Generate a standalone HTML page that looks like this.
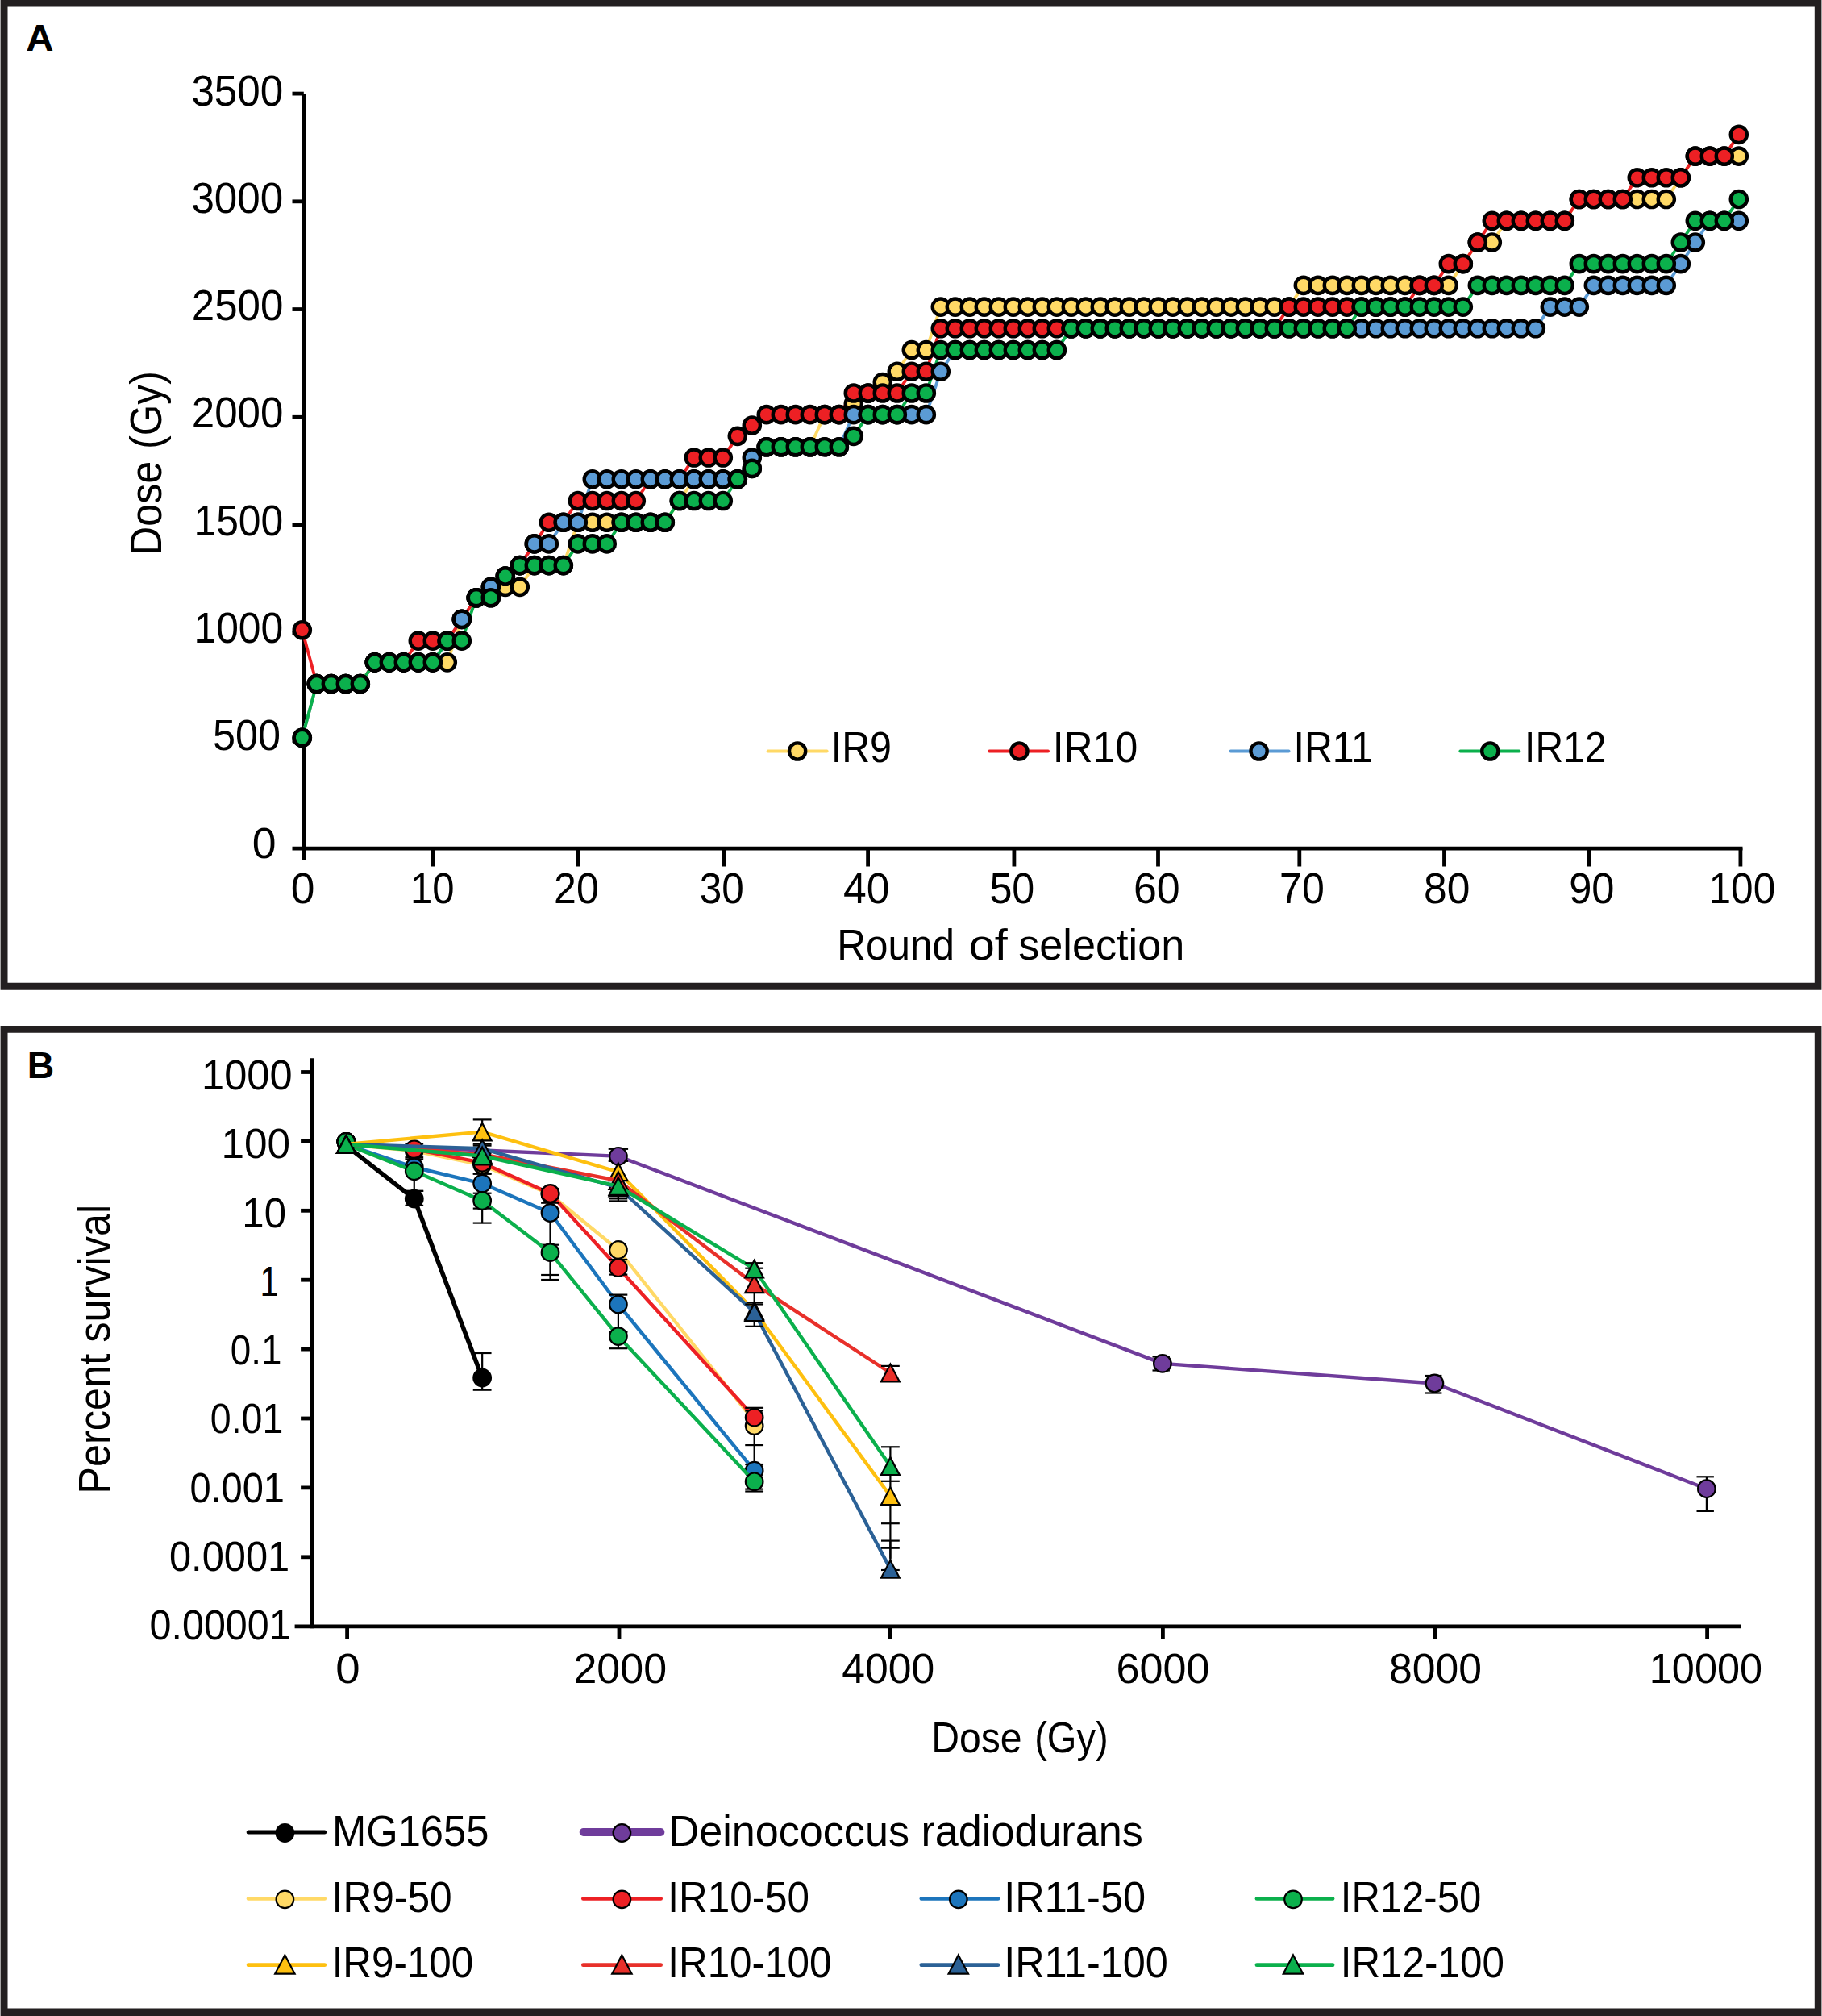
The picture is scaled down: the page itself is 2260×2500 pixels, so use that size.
<!DOCTYPE html>
<html lang="en">
<head>
<meta charset="utf-8">
<title>Dose per round of selection and percent survival</title>
<style>
html,body{margin:0;padding:0;background:#fff;}
body{width:2260px;height:2500px;overflow:hidden;}
svg{display:block;}
svg text{font-family:"Liberation Sans",sans-serif;}
</style>
</head>
<body>
<svg width="2260" height="2500" viewBox="0 0 2260 2500">
<rect x="0" y="0" width="2260" height="2500" fill="#fff"/>
<!-- Panel A -->
<path fill="#231f20" fill-rule="evenodd" d="M0.6 0H2259.4V1227.7H0.6Z M9.5 8.5H2250.8V1218.8H9.5Z"/>
<text transform="translate(32.31,63.1) scale(1.0077,1)" font-size="47.1" font-weight="bold" fill="#000">A</text>
<line x1="376.6" y1="116.1" x2="376.6" y2="1066" stroke="#000" stroke-width="4.8" stroke-linecap="butt"/>
<line x1="362.5" y1="1052.1" x2="2161.5" y2="1052.1" stroke="#000" stroke-width="4.8" stroke-linecap="butt"/>
<line x1="362.5" y1="918.47" x2="376.8" y2="918.47" stroke="#000" stroke-width="4.8" stroke-linecap="butt"/>
<line x1="362.5" y1="784.74" x2="376.8" y2="784.74" stroke="#000" stroke-width="4.8" stroke-linecap="butt"/>
<line x1="362.5" y1="651.01" x2="376.8" y2="651.01" stroke="#000" stroke-width="4.8" stroke-linecap="butt"/>
<line x1="362.5" y1="517.28" x2="376.8" y2="517.28" stroke="#000" stroke-width="4.8" stroke-linecap="butt"/>
<line x1="362.5" y1="383.55" x2="376.8" y2="383.55" stroke="#000" stroke-width="4.8" stroke-linecap="butt"/>
<line x1="362.5" y1="249.82" x2="376.8" y2="249.82" stroke="#000" stroke-width="4.8" stroke-linecap="butt"/>
<line x1="362.5" y1="116.09" x2="376.8" y2="116.09" stroke="#000" stroke-width="4.8" stroke-linecap="butt"/>
<line x1="536.9" y1="1052.1" x2="536.9" y2="1074.5" stroke="#000" stroke-width="4.8" stroke-linecap="butt"/>
<line x1="716.6" y1="1052.1" x2="716.6" y2="1074.5" stroke="#000" stroke-width="4.8" stroke-linecap="butt"/>
<line x1="897.7" y1="1052.1" x2="897.7" y2="1074.5" stroke="#000" stroke-width="4.8" stroke-linecap="butt"/>
<line x1="1076.6" y1="1052.1" x2="1076.6" y2="1074.5" stroke="#000" stroke-width="4.8" stroke-linecap="butt"/>
<line x1="1257.9" y1="1052.1" x2="1257.9" y2="1074.5" stroke="#000" stroke-width="4.8" stroke-linecap="butt"/>
<line x1="1436.5" y1="1052.1" x2="1436.5" y2="1074.5" stroke="#000" stroke-width="4.8" stroke-linecap="butt"/>
<line x1="1611.8" y1="1052.1" x2="1611.8" y2="1074.5" stroke="#000" stroke-width="4.8" stroke-linecap="butt"/>
<line x1="1791.5" y1="1052.1" x2="1791.5" y2="1074.5" stroke="#000" stroke-width="4.8" stroke-linecap="butt"/>
<line x1="1971" y1="1052.1" x2="1971" y2="1074.5" stroke="#000" stroke-width="4.8" stroke-linecap="butt"/>
<line x1="2158.9" y1="1052.1" x2="2158.9" y2="1074.5" stroke="#000" stroke-width="4.8" stroke-linecap="butt"/>
<text transform="translate(237.38,130.5) scale(0.9574,1)" font-size="53.5" fill="#000">3500</text>
<text transform="translate(237.38,263.81) scale(0.9574,1)" font-size="53.5" fill="#000">3000</text>
<text transform="translate(237.75,397.13) scale(0.9543,1)" font-size="53.5" fill="#000">2500</text>
<text transform="translate(237.75,530.44) scale(0.9543,1)" font-size="53.5" fill="#000">2000</text>
<text transform="translate(240.46,663.76) scale(0.9310,1)" font-size="53.5" fill="#000">1500</text>
<text transform="translate(240.46,797.07) scale(0.9310,1)" font-size="53.5" fill="#000">1000</text>
<text transform="translate(263.98,930.38) scale(0.9416,1)" font-size="53.5" fill="#000">500</text>
<text transform="translate(312.66,1063.7) scale(1.0021,1)" font-size="53.5" fill="#000">0</text>
<text transform="translate(360.66,1119.5) scale(0.9982,1)" font-size="53.5" fill="#000">0</text>
<text transform="translate(508.92,1119.5) scale(0.9182,1)" font-size="53.5" fill="#000">10</text>
<text transform="translate(687.1,1119.5) scale(0.9360,1)" font-size="53.5" fill="#000">20</text>
<text transform="translate(867.64,1119.5) scale(0.9246,1)" font-size="53.5" fill="#000">30</text>
<text transform="translate(1045.94,1119.5) scale(0.9666,1)" font-size="53.5" fill="#000">40</text>
<text transform="translate(1227.39,1119.5) scale(0.9396,1)" font-size="53.5" fill="#000">50</text>
<text transform="translate(1405.9,1119.5) scale(0.9707,1)" font-size="53.5" fill="#000">60</text>
<text transform="translate(1587.1,1119.5) scale(0.9360,1)" font-size="53.5" fill="#000">70</text>
<text transform="translate(1766.11,1119.5) scale(0.9636,1)" font-size="53.5" fill="#000">80</text>
<text transform="translate(1946.19,1119.5) scale(0.9464,1)" font-size="53.5" fill="#000">90</text>
<text transform="translate(2119.59,1119.5) scale(0.9256,1)" font-size="53.5" fill="#000">100</text>
<g>
<text transform="translate(1038.33,1190) scale(0.9063,1)" font-size="54.5" fill="#000">Round</text>
<text transform="translate(1201.65,1190) scale(1.0581,1)" font-size="54.5" fill="#000">of</text>
<text transform="translate(1263.16,1190) scale(0.9586,1)" font-size="54.5" fill="#000">selection</text>
</g>
<g>
<text transform="translate(200.4,688.94) rotate(-90) scale(0.9036,1)" font-size="55.5" fill="#000">Dose</text>
<text transform="translate(200.4,556.7) rotate(-90) scale(0.8930,1)" font-size="55.5" fill="#000">(Gy)</text>
</g>
<g fill="none" stroke-width="3.8" stroke-linejoin="round">
<polyline points="374.8,914.84 392.8,848.05 410.8,848.05 428.8,848.05 446.8,848.05 464.8,821.34 482.8,821.34 500.8,821.34 518.8,821.34 536.8,821.34 554.8,821.34 572.8,767.91 590.8,741.2 608.8,741.2 626.8,727.84 644.8,727.84 662.8,701.13 680.8,701.13 698.8,701.13 716.8,647.71 734.8,647.71 752.8,647.71 770.8,647.71 788.8,647.71 806.8,647.71 824.8,647.71 842.8,620.99 860.8,594.28 878.8,594.28 896.8,594.28 914.8,594.28 932.8,580.92 950.8,554.21 968.8,554.21 986.8,554.21 1004.8,554.21 1022.8,514.14 1040.8,514.14 1058.8,500.78 1076.8,487.43 1094.8,474.07 1112.8,460.71 1130.8,434 1148.8,434 1166.8,380.58 1184.8,380.58 1202.8,380.58 1220.8,380.58 1238.8,380.58 1256.8,380.58 1274.8,380.58 1292.8,380.58 1310.8,380.58 1328.8,380.58 1346.8,380.58 1364.8,380.58 1382.8,380.58 1400.8,380.58 1418.8,380.58 1436.8,380.58 1454.8,380.58 1472.8,380.58 1490.8,380.58 1508.8,380.58 1526.8,380.58 1544.8,380.58 1562.8,380.58 1580.8,380.58 1598.8,380.58 1616.8,353.86 1634.8,353.86 1652.8,353.86 1670.8,353.86 1688.8,353.86 1706.8,353.86 1724.8,353.86 1742.8,353.86 1760.8,353.86 1778.8,353.86 1796.8,353.86 1814.8,327.15 1832.8,300.44 1850.8,300.44 1868.8,273.72 1886.8,273.72 1904.8,273.72 1922.8,273.72 1940.8,273.72 1958.8,247.01 1976.8,247.01 1994.8,247.01 2012.8,247.01 2030.8,247.01 2048.8,247.01 2066.8,247.01 2084.8,220.3 2102.8,193.58 2120.8,193.58 2138.8,193.58 2156.8,193.58" stroke="#ffd966"/>
<polyline points="374.8,914.84 392.8,848.05 410.8,848.05 428.8,848.05 446.8,848.05 464.8,821.34 482.8,821.34 500.8,821.34 518.8,821.34 536.8,821.34 554.8,794.63 572.8,767.91 590.8,741.2 608.8,727.84 626.8,714.49 644.8,701.13 662.8,674.42 680.8,674.42 698.8,647.71 716.8,647.71 734.8,594.28 752.8,594.28 770.8,594.28 788.8,594.28 806.8,594.28 824.8,594.28 842.8,594.28 860.8,594.28 878.8,594.28 896.8,594.28 914.8,594.28 932.8,567.57 950.8,554.21 968.8,554.21 986.8,554.21 1004.8,554.21 1022.8,554.21 1040.8,554.21 1058.8,514.14 1076.8,514.14 1094.8,514.14 1112.8,514.14 1130.8,514.14 1148.8,514.14 1166.8,460.71 1184.8,434 1202.8,434 1220.8,434 1238.8,434 1256.8,434 1274.8,434 1292.8,434 1310.8,434 1328.8,407.29 1346.8,407.29 1364.8,407.29 1382.8,407.29 1400.8,407.29 1418.8,407.29 1436.8,407.29 1454.8,407.29 1472.8,407.29 1490.8,407.29 1508.8,407.29 1526.8,407.29 1544.8,407.29 1562.8,407.29 1580.8,407.29 1598.8,407.29 1616.8,407.29 1634.8,407.29 1652.8,407.29 1670.8,407.29 1688.8,407.29 1706.8,407.29 1724.8,407.29 1742.8,407.29 1760.8,407.29 1778.8,407.29 1796.8,407.29 1814.8,407.29 1832.8,407.29 1850.8,407.29 1868.8,407.29 1886.8,407.29 1904.8,407.29 1922.8,380.58 1940.8,380.58 1958.8,380.58 1976.8,353.86 1994.8,353.86 2012.8,353.86 2030.8,353.86 2048.8,353.86 2066.8,353.86 2084.8,327.15 2102.8,300.44 2120.8,273.72 2138.8,273.72 2156.8,273.72" stroke="#5b9bd5"/>
<polyline points="374.8,781.27 392.8,848.05 410.8,848.05 428.8,848.05 446.8,848.05 464.8,821.34 482.8,821.34 500.8,821.34 518.8,794.63 536.8,794.63 554.8,794.63 572.8,767.91 590.8,741.2 608.8,727.84 626.8,714.49 644.8,701.13 662.8,674.42 680.8,647.71 698.8,647.71 716.8,620.99 734.8,620.99 752.8,620.99 770.8,620.99 788.8,620.99 806.8,594.28 824.8,594.28 842.8,594.28 860.8,567.57 878.8,567.57 896.8,567.57 914.8,540.85 932.8,527.5 950.8,514.14 968.8,514.14 986.8,514.14 1004.8,514.14 1022.8,514.14 1040.8,514.14 1058.8,487.43 1076.8,487.43 1094.8,487.43 1112.8,487.43 1130.8,460.71 1148.8,460.71 1166.8,407.29 1184.8,407.29 1202.8,407.29 1220.8,407.29 1238.8,407.29 1256.8,407.29 1274.8,407.29 1292.8,407.29 1310.8,407.29 1328.8,407.29 1346.8,407.29 1364.8,407.29 1382.8,407.29 1400.8,407.29 1418.8,407.29 1436.8,407.29 1454.8,407.29 1472.8,407.29 1490.8,407.29 1508.8,407.29 1526.8,407.29 1544.8,407.29 1562.8,407.29 1580.8,407.29 1598.8,380.58 1616.8,380.58 1634.8,380.58 1652.8,380.58 1670.8,380.58 1688.8,380.58 1706.8,380.58 1724.8,380.58 1742.8,380.58 1760.8,353.86 1778.8,353.86 1796.8,327.15 1814.8,327.15 1832.8,300.44 1850.8,273.72 1868.8,273.72 1886.8,273.72 1904.8,273.72 1922.8,273.72 1940.8,273.72 1958.8,247.01 1976.8,247.01 1994.8,247.01 2012.8,247.01 2030.8,220.3 2048.8,220.3 2066.8,220.3 2084.8,220.3 2102.8,193.58 2120.8,193.58 2138.8,193.58 2156.8,166.87" stroke="#ed2024"/>
<polyline points="374.8,914.84 392.8,848.05 410.8,848.05 428.8,848.05 446.8,848.05 464.8,821.34 482.8,821.34 500.8,821.34 518.8,821.34 536.8,821.34 554.8,794.63 572.8,794.63 590.8,741.2 608.8,741.2 626.8,714.49 644.8,701.13 662.8,701.13 680.8,701.13 698.8,701.13 716.8,674.42 734.8,674.42 752.8,674.42 770.8,647.71 788.8,647.71 806.8,647.71 824.8,647.71 842.8,620.99 860.8,620.99 878.8,620.99 896.8,620.99 914.8,594.28 932.8,580.92 950.8,554.21 968.8,554.21 986.8,554.21 1004.8,554.21 1022.8,554.21 1040.8,554.21 1058.8,540.85 1076.8,514.14 1094.8,514.14 1112.8,514.14 1130.8,487.43 1148.8,487.43 1166.8,434 1184.8,434 1202.8,434 1220.8,434 1238.8,434 1256.8,434 1274.8,434 1292.8,434 1310.8,434 1328.8,407.29 1346.8,407.29 1364.8,407.29 1382.8,407.29 1400.8,407.29 1418.8,407.29 1436.8,407.29 1454.8,407.29 1472.8,407.29 1490.8,407.29 1508.8,407.29 1526.8,407.29 1544.8,407.29 1562.8,407.29 1580.8,407.29 1598.8,407.29 1616.8,407.29 1634.8,407.29 1652.8,407.29 1670.8,407.29 1688.8,380.58 1706.8,380.58 1724.8,380.58 1742.8,380.58 1760.8,380.58 1778.8,380.58 1796.8,380.58 1814.8,380.58 1832.8,353.86 1850.8,353.86 1868.8,353.86 1886.8,353.86 1904.8,353.86 1922.8,353.86 1940.8,353.86 1958.8,327.15 1976.8,327.15 1994.8,327.15 2012.8,327.15 2030.8,327.15 2048.8,327.15 2066.8,327.15 2084.8,300.44 2102.8,273.72 2120.8,273.72 2138.8,273.72 2156.8,247.01" stroke="#0bb04c"/>
</g>
<g fill="#ffd966" stroke="#000" stroke-width="4.4">
<circle cx="374.8" cy="914.84" r="10.1"/><circle cx="392.8" cy="848.05" r="10.1"/><circle cx="410.8" cy="848.05" r="10.1"/><circle cx="428.8" cy="848.05" r="10.1"/><circle cx="446.8" cy="848.05" r="10.1"/><circle cx="464.8" cy="821.34" r="10.1"/><circle cx="482.8" cy="821.34" r="10.1"/><circle cx="500.8" cy="821.34" r="10.1"/><circle cx="518.8" cy="821.34" r="10.1"/><circle cx="536.8" cy="821.34" r="10.1"/><circle cx="554.8" cy="821.34" r="10.1"/><circle cx="572.8" cy="767.91" r="10.1"/><circle cx="590.8" cy="741.2" r="10.1"/><circle cx="608.8" cy="741.2" r="10.1"/><circle cx="626.8" cy="727.84" r="10.1"/><circle cx="644.8" cy="727.84" r="10.1"/><circle cx="662.8" cy="701.13" r="10.1"/><circle cx="680.8" cy="701.13" r="10.1"/><circle cx="698.8" cy="701.13" r="10.1"/><circle cx="716.8" cy="647.71" r="10.1"/><circle cx="734.8" cy="647.71" r="10.1"/><circle cx="752.8" cy="647.71" r="10.1"/><circle cx="770.8" cy="647.71" r="10.1"/><circle cx="788.8" cy="647.71" r="10.1"/><circle cx="806.8" cy="647.71" r="10.1"/><circle cx="824.8" cy="647.71" r="10.1"/><circle cx="842.8" cy="620.99" r="10.1"/><circle cx="860.8" cy="594.28" r="10.1"/><circle cx="878.8" cy="594.28" r="10.1"/><circle cx="896.8" cy="594.28" r="10.1"/><circle cx="914.8" cy="594.28" r="10.1"/><circle cx="932.8" cy="580.92" r="10.1"/><circle cx="950.8" cy="554.21" r="10.1"/><circle cx="968.8" cy="554.21" r="10.1"/><circle cx="986.8" cy="554.21" r="10.1"/><circle cx="1004.8" cy="554.21" r="10.1"/><circle cx="1022.8" cy="514.14" r="10.1"/><circle cx="1040.8" cy="514.14" r="10.1"/><circle cx="1058.8" cy="500.78" r="10.1"/><circle cx="1076.8" cy="487.43" r="10.1"/><circle cx="1094.8" cy="474.07" r="10.1"/><circle cx="1112.8" cy="460.71" r="10.1"/><circle cx="1130.8" cy="434" r="10.1"/><circle cx="1148.8" cy="434" r="10.1"/><circle cx="1166.8" cy="380.58" r="10.1"/><circle cx="1184.8" cy="380.58" r="10.1"/><circle cx="1202.8" cy="380.58" r="10.1"/><circle cx="1220.8" cy="380.58" r="10.1"/><circle cx="1238.8" cy="380.58" r="10.1"/><circle cx="1256.8" cy="380.58" r="10.1"/><circle cx="1274.8" cy="380.58" r="10.1"/><circle cx="1292.8" cy="380.58" r="10.1"/><circle cx="1310.8" cy="380.58" r="10.1"/><circle cx="1328.8" cy="380.58" r="10.1"/><circle cx="1346.8" cy="380.58" r="10.1"/><circle cx="1364.8" cy="380.58" r="10.1"/><circle cx="1382.8" cy="380.58" r="10.1"/><circle cx="1400.8" cy="380.58" r="10.1"/><circle cx="1418.8" cy="380.58" r="10.1"/><circle cx="1436.8" cy="380.58" r="10.1"/><circle cx="1454.8" cy="380.58" r="10.1"/><circle cx="1472.8" cy="380.58" r="10.1"/><circle cx="1490.8" cy="380.58" r="10.1"/><circle cx="1508.8" cy="380.58" r="10.1"/><circle cx="1526.8" cy="380.58" r="10.1"/><circle cx="1544.8" cy="380.58" r="10.1"/><circle cx="1562.8" cy="380.58" r="10.1"/><circle cx="1580.8" cy="380.58" r="10.1"/><circle cx="1598.8" cy="380.58" r="10.1"/><circle cx="1616.8" cy="353.86" r="10.1"/><circle cx="1634.8" cy="353.86" r="10.1"/><circle cx="1652.8" cy="353.86" r="10.1"/><circle cx="1670.8" cy="353.86" r="10.1"/><circle cx="1688.8" cy="353.86" r="10.1"/><circle cx="1706.8" cy="353.86" r="10.1"/><circle cx="1724.8" cy="353.86" r="10.1"/><circle cx="1742.8" cy="353.86" r="10.1"/><circle cx="1760.8" cy="353.86" r="10.1"/><circle cx="1778.8" cy="353.86" r="10.1"/><circle cx="1796.8" cy="353.86" r="10.1"/><circle cx="1814.8" cy="327.15" r="10.1"/><circle cx="1832.8" cy="300.44" r="10.1"/><circle cx="1850.8" cy="300.44" r="10.1"/><circle cx="1868.8" cy="273.72" r="10.1"/><circle cx="1886.8" cy="273.72" r="10.1"/><circle cx="1904.8" cy="273.72" r="10.1"/><circle cx="1922.8" cy="273.72" r="10.1"/><circle cx="1940.8" cy="273.72" r="10.1"/><circle cx="1958.8" cy="247.01" r="10.1"/><circle cx="1976.8" cy="247.01" r="10.1"/><circle cx="1994.8" cy="247.01" r="10.1"/><circle cx="2012.8" cy="247.01" r="10.1"/><circle cx="2030.8" cy="247.01" r="10.1"/><circle cx="2048.8" cy="247.01" r="10.1"/><circle cx="2066.8" cy="247.01" r="10.1"/><circle cx="2084.8" cy="220.3" r="10.1"/><circle cx="2102.8" cy="193.58" r="10.1"/><circle cx="2120.8" cy="193.58" r="10.1"/><circle cx="2138.8" cy="193.58" r="10.1"/><circle cx="2156.8" cy="193.58" r="10.1"/>
</g>
<g fill="#ed2024" stroke="#000" stroke-width="4.4">
<circle cx="374.8" cy="781.27" r="10.1"/><circle cx="392.8" cy="848.05" r="10.1"/><circle cx="410.8" cy="848.05" r="10.1"/><circle cx="428.8" cy="848.05" r="10.1"/><circle cx="446.8" cy="848.05" r="10.1"/><circle cx="464.8" cy="821.34" r="10.1"/><circle cx="482.8" cy="821.34" r="10.1"/><circle cx="500.8" cy="821.34" r="10.1"/><circle cx="518.8" cy="794.63" r="10.1"/><circle cx="536.8" cy="794.63" r="10.1"/><circle cx="554.8" cy="794.63" r="10.1"/><circle cx="572.8" cy="767.91" r="10.1"/><circle cx="590.8" cy="741.2" r="10.1"/><circle cx="608.8" cy="727.84" r="10.1"/><circle cx="626.8" cy="714.49" r="10.1"/><circle cx="644.8" cy="701.13" r="10.1"/><circle cx="662.8" cy="674.42" r="10.1"/><circle cx="680.8" cy="647.71" r="10.1"/><circle cx="698.8" cy="647.71" r="10.1"/><circle cx="716.8" cy="620.99" r="10.1"/><circle cx="734.8" cy="620.99" r="10.1"/><circle cx="752.8" cy="620.99" r="10.1"/><circle cx="770.8" cy="620.99" r="10.1"/><circle cx="788.8" cy="620.99" r="10.1"/><circle cx="806.8" cy="594.28" r="10.1"/><circle cx="824.8" cy="594.28" r="10.1"/><circle cx="842.8" cy="594.28" r="10.1"/><circle cx="860.8" cy="567.57" r="10.1"/><circle cx="878.8" cy="567.57" r="10.1"/><circle cx="896.8" cy="567.57" r="10.1"/><circle cx="914.8" cy="540.85" r="10.1"/><circle cx="932.8" cy="527.5" r="10.1"/><circle cx="950.8" cy="514.14" r="10.1"/><circle cx="968.8" cy="514.14" r="10.1"/><circle cx="986.8" cy="514.14" r="10.1"/><circle cx="1004.8" cy="514.14" r="10.1"/><circle cx="1022.8" cy="514.14" r="10.1"/><circle cx="1040.8" cy="514.14" r="10.1"/><circle cx="1058.8" cy="487.43" r="10.1"/><circle cx="1076.8" cy="487.43" r="10.1"/><circle cx="1094.8" cy="487.43" r="10.1"/><circle cx="1112.8" cy="487.43" r="10.1"/><circle cx="1130.8" cy="460.71" r="10.1"/><circle cx="1148.8" cy="460.71" r="10.1"/><circle cx="1166.8" cy="407.29" r="10.1"/><circle cx="1184.8" cy="407.29" r="10.1"/><circle cx="1202.8" cy="407.29" r="10.1"/><circle cx="1220.8" cy="407.29" r="10.1"/><circle cx="1238.8" cy="407.29" r="10.1"/><circle cx="1256.8" cy="407.29" r="10.1"/><circle cx="1274.8" cy="407.29" r="10.1"/><circle cx="1292.8" cy="407.29" r="10.1"/><circle cx="1310.8" cy="407.29" r="10.1"/><circle cx="1328.8" cy="407.29" r="10.1"/><circle cx="1346.8" cy="407.29" r="10.1"/><circle cx="1364.8" cy="407.29" r="10.1"/><circle cx="1382.8" cy="407.29" r="10.1"/><circle cx="1400.8" cy="407.29" r="10.1"/><circle cx="1418.8" cy="407.29" r="10.1"/><circle cx="1436.8" cy="407.29" r="10.1"/><circle cx="1454.8" cy="407.29" r="10.1"/><circle cx="1472.8" cy="407.29" r="10.1"/><circle cx="1490.8" cy="407.29" r="10.1"/><circle cx="1508.8" cy="407.29" r="10.1"/><circle cx="1526.8" cy="407.29" r="10.1"/><circle cx="1544.8" cy="407.29" r="10.1"/><circle cx="1562.8" cy="407.29" r="10.1"/><circle cx="1580.8" cy="407.29" r="10.1"/><circle cx="1598.8" cy="380.58" r="10.1"/><circle cx="1616.8" cy="380.58" r="10.1"/><circle cx="1634.8" cy="380.58" r="10.1"/><circle cx="1652.8" cy="380.58" r="10.1"/><circle cx="1670.8" cy="380.58" r="10.1"/><circle cx="1688.8" cy="380.58" r="10.1"/><circle cx="1706.8" cy="380.58" r="10.1"/><circle cx="1724.8" cy="380.58" r="10.1"/><circle cx="1742.8" cy="380.58" r="10.1"/><circle cx="1760.8" cy="353.86" r="10.1"/><circle cx="1778.8" cy="353.86" r="10.1"/><circle cx="1796.8" cy="327.15" r="10.1"/><circle cx="1814.8" cy="327.15" r="10.1"/><circle cx="1832.8" cy="300.44" r="10.1"/><circle cx="1850.8" cy="273.72" r="10.1"/><circle cx="1868.8" cy="273.72" r="10.1"/><circle cx="1886.8" cy="273.72" r="10.1"/><circle cx="1904.8" cy="273.72" r="10.1"/><circle cx="1922.8" cy="273.72" r="10.1"/><circle cx="1940.8" cy="273.72" r="10.1"/><circle cx="1958.8" cy="247.01" r="10.1"/><circle cx="1976.8" cy="247.01" r="10.1"/><circle cx="1994.8" cy="247.01" r="10.1"/><circle cx="2012.8" cy="247.01" r="10.1"/><circle cx="2030.8" cy="220.3" r="10.1"/><circle cx="2048.8" cy="220.3" r="10.1"/><circle cx="2066.8" cy="220.3" r="10.1"/><circle cx="2084.8" cy="220.3" r="10.1"/><circle cx="2102.8" cy="193.58" r="10.1"/><circle cx="2120.8" cy="193.58" r="10.1"/><circle cx="2138.8" cy="193.58" r="10.1"/><circle cx="2156.8" cy="166.87" r="10.1"/>
</g>
<g fill="#5b9bd5" stroke="#000" stroke-width="4.4">
<circle cx="374.8" cy="914.84" r="10.1"/><circle cx="392.8" cy="848.05" r="10.1"/><circle cx="410.8" cy="848.05" r="10.1"/><circle cx="428.8" cy="848.05" r="10.1"/><circle cx="446.8" cy="848.05" r="10.1"/><circle cx="464.8" cy="821.34" r="10.1"/><circle cx="482.8" cy="821.34" r="10.1"/><circle cx="500.8" cy="821.34" r="10.1"/><circle cx="518.8" cy="821.34" r="10.1"/><circle cx="536.8" cy="821.34" r="10.1"/><circle cx="554.8" cy="794.63" r="10.1"/><circle cx="572.8" cy="767.91" r="10.1"/><circle cx="590.8" cy="741.2" r="10.1"/><circle cx="608.8" cy="727.84" r="10.1"/><circle cx="626.8" cy="714.49" r="10.1"/><circle cx="644.8" cy="701.13" r="10.1"/><circle cx="662.8" cy="674.42" r="10.1"/><circle cx="680.8" cy="674.42" r="10.1"/><circle cx="698.8" cy="647.71" r="10.1"/><circle cx="716.8" cy="647.71" r="10.1"/><circle cx="734.8" cy="594.28" r="10.1"/><circle cx="752.8" cy="594.28" r="10.1"/><circle cx="770.8" cy="594.28" r="10.1"/><circle cx="788.8" cy="594.28" r="10.1"/><circle cx="806.8" cy="594.28" r="10.1"/><circle cx="824.8" cy="594.28" r="10.1"/><circle cx="842.8" cy="594.28" r="10.1"/><circle cx="860.8" cy="594.28" r="10.1"/><circle cx="878.8" cy="594.28" r="10.1"/><circle cx="896.8" cy="594.28" r="10.1"/><circle cx="914.8" cy="594.28" r="10.1"/><circle cx="932.8" cy="567.57" r="10.1"/><circle cx="950.8" cy="554.21" r="10.1"/><circle cx="968.8" cy="554.21" r="10.1"/><circle cx="986.8" cy="554.21" r="10.1"/><circle cx="1004.8" cy="554.21" r="10.1"/><circle cx="1022.8" cy="554.21" r="10.1"/><circle cx="1040.8" cy="554.21" r="10.1"/><circle cx="1058.8" cy="514.14" r="10.1"/><circle cx="1076.8" cy="514.14" r="10.1"/><circle cx="1094.8" cy="514.14" r="10.1"/><circle cx="1112.8" cy="514.14" r="10.1"/><circle cx="1130.8" cy="514.14" r="10.1"/><circle cx="1148.8" cy="514.14" r="10.1"/><circle cx="1166.8" cy="460.71" r="10.1"/><circle cx="1184.8" cy="434" r="10.1"/><circle cx="1202.8" cy="434" r="10.1"/><circle cx="1220.8" cy="434" r="10.1"/><circle cx="1238.8" cy="434" r="10.1"/><circle cx="1256.8" cy="434" r="10.1"/><circle cx="1274.8" cy="434" r="10.1"/><circle cx="1292.8" cy="434" r="10.1"/><circle cx="1310.8" cy="434" r="10.1"/><circle cx="1328.8" cy="407.29" r="10.1"/><circle cx="1346.8" cy="407.29" r="10.1"/><circle cx="1364.8" cy="407.29" r="10.1"/><circle cx="1382.8" cy="407.29" r="10.1"/><circle cx="1400.8" cy="407.29" r="10.1"/><circle cx="1418.8" cy="407.29" r="10.1"/><circle cx="1436.8" cy="407.29" r="10.1"/><circle cx="1454.8" cy="407.29" r="10.1"/><circle cx="1472.8" cy="407.29" r="10.1"/><circle cx="1490.8" cy="407.29" r="10.1"/><circle cx="1508.8" cy="407.29" r="10.1"/><circle cx="1526.8" cy="407.29" r="10.1"/><circle cx="1544.8" cy="407.29" r="10.1"/><circle cx="1562.8" cy="407.29" r="10.1"/><circle cx="1580.8" cy="407.29" r="10.1"/><circle cx="1598.8" cy="407.29" r="10.1"/><circle cx="1616.8" cy="407.29" r="10.1"/><circle cx="1634.8" cy="407.29" r="10.1"/><circle cx="1652.8" cy="407.29" r="10.1"/><circle cx="1670.8" cy="407.29" r="10.1"/><circle cx="1688.8" cy="407.29" r="10.1"/><circle cx="1706.8" cy="407.29" r="10.1"/><circle cx="1724.8" cy="407.29" r="10.1"/><circle cx="1742.8" cy="407.29" r="10.1"/><circle cx="1760.8" cy="407.29" r="10.1"/><circle cx="1778.8" cy="407.29" r="10.1"/><circle cx="1796.8" cy="407.29" r="10.1"/><circle cx="1814.8" cy="407.29" r="10.1"/><circle cx="1832.8" cy="407.29" r="10.1"/><circle cx="1850.8" cy="407.29" r="10.1"/><circle cx="1868.8" cy="407.29" r="10.1"/><circle cx="1886.8" cy="407.29" r="10.1"/><circle cx="1904.8" cy="407.29" r="10.1"/><circle cx="1922.8" cy="380.58" r="10.1"/><circle cx="1940.8" cy="380.58" r="10.1"/><circle cx="1958.8" cy="380.58" r="10.1"/><circle cx="1976.8" cy="353.86" r="10.1"/><circle cx="1994.8" cy="353.86" r="10.1"/><circle cx="2012.8" cy="353.86" r="10.1"/><circle cx="2030.8" cy="353.86" r="10.1"/><circle cx="2048.8" cy="353.86" r="10.1"/><circle cx="2066.8" cy="353.86" r="10.1"/><circle cx="2084.8" cy="327.15" r="10.1"/><circle cx="2102.8" cy="300.44" r="10.1"/><circle cx="2120.8" cy="273.72" r="10.1"/><circle cx="2138.8" cy="273.72" r="10.1"/><circle cx="2156.8" cy="273.72" r="10.1"/>
</g>
<g fill="#0bb04c" stroke="#000" stroke-width="4.4">
<circle cx="374.8" cy="914.84" r="10.1"/><circle cx="392.8" cy="848.05" r="10.1"/><circle cx="410.8" cy="848.05" r="10.1"/><circle cx="428.8" cy="848.05" r="10.1"/><circle cx="446.8" cy="848.05" r="10.1"/><circle cx="464.8" cy="821.34" r="10.1"/><circle cx="482.8" cy="821.34" r="10.1"/><circle cx="500.8" cy="821.34" r="10.1"/><circle cx="518.8" cy="821.34" r="10.1"/><circle cx="536.8" cy="821.34" r="10.1"/><circle cx="554.8" cy="794.63" r="10.1"/><circle cx="572.8" cy="794.63" r="10.1"/><circle cx="590.8" cy="741.2" r="10.1"/><circle cx="608.8" cy="741.2" r="10.1"/><circle cx="626.8" cy="714.49" r="10.1"/><circle cx="644.8" cy="701.13" r="10.1"/><circle cx="662.8" cy="701.13" r="10.1"/><circle cx="680.8" cy="701.13" r="10.1"/><circle cx="698.8" cy="701.13" r="10.1"/><circle cx="716.8" cy="674.42" r="10.1"/><circle cx="734.8" cy="674.42" r="10.1"/><circle cx="752.8" cy="674.42" r="10.1"/><circle cx="770.8" cy="647.71" r="10.1"/><circle cx="788.8" cy="647.71" r="10.1"/><circle cx="806.8" cy="647.71" r="10.1"/><circle cx="824.8" cy="647.71" r="10.1"/><circle cx="842.8" cy="620.99" r="10.1"/><circle cx="860.8" cy="620.99" r="10.1"/><circle cx="878.8" cy="620.99" r="10.1"/><circle cx="896.8" cy="620.99" r="10.1"/><circle cx="914.8" cy="594.28" r="10.1"/><circle cx="932.8" cy="580.92" r="10.1"/><circle cx="950.8" cy="554.21" r="10.1"/><circle cx="968.8" cy="554.21" r="10.1"/><circle cx="986.8" cy="554.21" r="10.1"/><circle cx="1004.8" cy="554.21" r="10.1"/><circle cx="1022.8" cy="554.21" r="10.1"/><circle cx="1040.8" cy="554.21" r="10.1"/><circle cx="1058.8" cy="540.85" r="10.1"/><circle cx="1076.8" cy="514.14" r="10.1"/><circle cx="1094.8" cy="514.14" r="10.1"/><circle cx="1112.8" cy="514.14" r="10.1"/><circle cx="1130.8" cy="487.43" r="10.1"/><circle cx="1148.8" cy="487.43" r="10.1"/><circle cx="1166.8" cy="434" r="10.1"/><circle cx="1184.8" cy="434" r="10.1"/><circle cx="1202.8" cy="434" r="10.1"/><circle cx="1220.8" cy="434" r="10.1"/><circle cx="1238.8" cy="434" r="10.1"/><circle cx="1256.8" cy="434" r="10.1"/><circle cx="1274.8" cy="434" r="10.1"/><circle cx="1292.8" cy="434" r="10.1"/><circle cx="1310.8" cy="434" r="10.1"/><circle cx="1328.8" cy="407.29" r="10.1"/><circle cx="1346.8" cy="407.29" r="10.1"/><circle cx="1364.8" cy="407.29" r="10.1"/><circle cx="1382.8" cy="407.29" r="10.1"/><circle cx="1400.8" cy="407.29" r="10.1"/><circle cx="1418.8" cy="407.29" r="10.1"/><circle cx="1436.8" cy="407.29" r="10.1"/><circle cx="1454.8" cy="407.29" r="10.1"/><circle cx="1472.8" cy="407.29" r="10.1"/><circle cx="1490.8" cy="407.29" r="10.1"/><circle cx="1508.8" cy="407.29" r="10.1"/><circle cx="1526.8" cy="407.29" r="10.1"/><circle cx="1544.8" cy="407.29" r="10.1"/><circle cx="1562.8" cy="407.29" r="10.1"/><circle cx="1580.8" cy="407.29" r="10.1"/><circle cx="1598.8" cy="407.29" r="10.1"/><circle cx="1616.8" cy="407.29" r="10.1"/><circle cx="1634.8" cy="407.29" r="10.1"/><circle cx="1652.8" cy="407.29" r="10.1"/><circle cx="1670.8" cy="407.29" r="10.1"/><circle cx="1688.8" cy="380.58" r="10.1"/><circle cx="1706.8" cy="380.58" r="10.1"/><circle cx="1724.8" cy="380.58" r="10.1"/><circle cx="1742.8" cy="380.58" r="10.1"/><circle cx="1760.8" cy="380.58" r="10.1"/><circle cx="1778.8" cy="380.58" r="10.1"/><circle cx="1796.8" cy="380.58" r="10.1"/><circle cx="1814.8" cy="380.58" r="10.1"/><circle cx="1832.8" cy="353.86" r="10.1"/><circle cx="1850.8" cy="353.86" r="10.1"/><circle cx="1868.8" cy="353.86" r="10.1"/><circle cx="1886.8" cy="353.86" r="10.1"/><circle cx="1904.8" cy="353.86" r="10.1"/><circle cx="1922.8" cy="353.86" r="10.1"/><circle cx="1940.8" cy="353.86" r="10.1"/><circle cx="1958.8" cy="327.15" r="10.1"/><circle cx="1976.8" cy="327.15" r="10.1"/><circle cx="1994.8" cy="327.15" r="10.1"/><circle cx="2012.8" cy="327.15" r="10.1"/><circle cx="2030.8" cy="327.15" r="10.1"/><circle cx="2048.8" cy="327.15" r="10.1"/><circle cx="2066.8" cy="327.15" r="10.1"/><circle cx="2084.8" cy="300.44" r="10.1"/><circle cx="2102.8" cy="273.72" r="10.1"/><circle cx="2120.8" cy="273.72" r="10.1"/><circle cx="2138.8" cy="273.72" r="10.1"/><circle cx="2156.8" cy="247.01" r="10.1"/>
</g>
<line x1="952.6" y1="931.5" x2="1025.7" y2="931.5" stroke="#ffd966" stroke-width="3.8" stroke-linecap="round"/>
<circle cx="989.1" cy="931.5" r="10.1" fill="#ffd966" stroke="#000" stroke-width="4.4"/>
<text transform="translate(1030.72,944.7) scale(0.8880,1)" font-size="54.5" fill="#000">IR9</text>
<line x1="1227.1" y1="931.5" x2="1300.1" y2="931.5" stroke="#ed2024" stroke-width="3.8" stroke-linecap="round"/>
<circle cx="1264.4" cy="931.5" r="10.1" fill="#ed2024" stroke="#000" stroke-width="4.4"/>
<text transform="translate(1305.68,944.7) scale(0.9165,1)" font-size="54.5" fill="#000">IR10</text>
<line x1="1526.5" y1="931.5" x2="1598.6" y2="931.5" stroke="#5b9bd5" stroke-width="3.8" stroke-linecap="round"/>
<circle cx="1561.6" cy="931.5" r="10.1" fill="#5b9bd5" stroke="#000" stroke-width="4.4"/>
<text transform="translate(1604.53,944.7) scale(0.8858,1)" font-size="54.5" fill="#000">IR11</text>
<line x1="1811.3" y1="931.5" x2="1884.4" y2="931.5" stroke="#0bb04c" stroke-width="3.8" stroke-linecap="round"/>
<circle cx="1848.3" cy="931.5" r="10.1" fill="#0bb04c" stroke="#000" stroke-width="4.4"/>
<text transform="translate(1891.06,944.7) scale(0.8813,1)" font-size="54.5" fill="#000">IR12</text>
<!-- Panel B -->
<path fill="#231f20" fill-rule="evenodd" d="M0.6 1272.1H2259.4V2500H0.6Z M9.5 1280.8H2250.8V2490.6H9.5Z"/>
<text transform="translate(33.87,1337.4) scale(0.9850,1)" font-size="47.1" font-weight="bold" fill="#000">B</text>
<line x1="386.8" y1="1312.2" x2="386.8" y2="2019.2" stroke="#000" stroke-width="4.8" stroke-linecap="butt"/>
<line x1="365.6" y1="2016.8" x2="2159.4" y2="2016.8" stroke="#000" stroke-width="4.8" stroke-linecap="butt"/>
<line x1="373.1" y1="1329.5" x2="386.8" y2="1329.5" stroke="#000" stroke-width="4.8" stroke-linecap="butt"/>
<line x1="373.1" y1="1415.4" x2="386.8" y2="1415.4" stroke="#000" stroke-width="4.8" stroke-linecap="butt"/>
<line x1="373.1" y1="1501.3" x2="386.8" y2="1501.3" stroke="#000" stroke-width="4.8" stroke-linecap="butt"/>
<line x1="373.1" y1="1587.2" x2="386.8" y2="1587.2" stroke="#000" stroke-width="4.8" stroke-linecap="butt"/>
<line x1="373.1" y1="1673.1" x2="386.8" y2="1673.1" stroke="#000" stroke-width="4.8" stroke-linecap="butt"/>
<line x1="373.1" y1="1759" x2="386.8" y2="1759" stroke="#000" stroke-width="4.8" stroke-linecap="butt"/>
<line x1="373.1" y1="1844.9" x2="386.8" y2="1844.9" stroke="#000" stroke-width="4.8" stroke-linecap="butt"/>
<line x1="373.1" y1="1930.8" x2="386.8" y2="1930.8" stroke="#000" stroke-width="4.8" stroke-linecap="butt"/>
<line x1="430.6" y1="2016.8" x2="430.6" y2="2032.5" stroke="#000" stroke-width="4.8" stroke-linecap="butt"/>
<line x1="768" y1="2016.8" x2="768" y2="2032.5" stroke="#000" stroke-width="4.8" stroke-linecap="butt"/>
<line x1="1104" y1="2016.8" x2="1104" y2="2032.5" stroke="#000" stroke-width="4.8" stroke-linecap="butt"/>
<line x1="1442.4" y1="2016.8" x2="1442.4" y2="2032.5" stroke="#000" stroke-width="4.8" stroke-linecap="butt"/>
<line x1="1780" y1="2016.8" x2="1780" y2="2032.5" stroke="#000" stroke-width="4.8" stroke-linecap="butt"/>
<line x1="2117.6" y1="2016.8" x2="2117.6" y2="2032.5" stroke="#000" stroke-width="4.8" stroke-linecap="butt"/>
<text transform="translate(250.11,1351) scale(0.9632,1)" font-size="52.5" fill="#000">1000</text>
<text transform="translate(274.55,1436.26) scale(0.9775,1)" font-size="52.5" fill="#000">100</text>
<text transform="translate(300.32,1521.52) scale(0.9357,1)" font-size="52.5" fill="#000">10</text>
<text transform="translate(322.4,1606.78) scale(0.7883,1)" font-size="52.5" fill="#000">1</text>
<text transform="translate(285.77,1692.04) scale(0.8730,1)" font-size="52.5" fill="#000">0.1</text>
<text transform="translate(260.84,1777.3) scale(0.8860,1)" font-size="52.5" fill="#000">0.01</text>
<text transform="translate(235.42,1862.56) scale(0.8952,1)" font-size="52.5" fill="#000">0.001</text>
<text transform="translate(209.95,1947.82) scale(0.9299,1)" font-size="52.5" fill="#000">0.0001</text>
<text transform="translate(185.56,2033.08) scale(0.9229,1)" font-size="52.5" fill="#000">0.00001</text>
<text transform="translate(416.21,2087.4) scale(1.0411,1)" font-size="52.5" fill="#000">0</text>
<text transform="translate(711.4,2087.4) scale(0.9903,1)" font-size="52.5" fill="#000">2000</text>
<text transform="translate(1044.34,2087.4) scale(0.9848,1)" font-size="52.5" fill="#000">4000</text>
<text transform="translate(1384.59,2087.4) scale(0.9930,1)" font-size="52.5" fill="#000">6000</text>
<text transform="translate(1723.1,2087.4) scale(0.9842,1)" font-size="52.5" fill="#000">8000</text>
<text transform="translate(2045.82,2087.4) scale(0.9611,1)" font-size="52.5" fill="#000">10000</text>
<g>
<text transform="translate(1155.23,2172.9) scale(0.9001,1)" font-size="53.5" fill="#000">Dose</text>
<text transform="translate(1283.15,2172.9) scale(0.8812,1)" font-size="53.5" fill="#000">(Gy)</text>
</g>
<text transform="translate(135.8,1852.66) rotate(-90) scale(0.9012,1)" font-size="56" fill="#000">Percent survival</text>
<g><polyline points="429.4,1420.6 513.77,1486.6 598.15,1708.6" fill="none" stroke="#000" stroke-width="5.5" stroke-linejoin="round"/>
<line x1="513.77" y1="1476.9" x2="513.77" y2="1494.9" stroke="#000" stroke-width="2.2" stroke-linecap="butt"/>
<line x1="502.38" y1="1476.9" x2="525.17" y2="1476.9" stroke="#000" stroke-width="2.2" stroke-linecap="butt"/>
<line x1="502.38" y1="1494.9" x2="525.17" y2="1494.9" stroke="#000" stroke-width="2.2" stroke-linecap="butt"/>
<line x1="598.15" y1="1678" x2="598.15" y2="1723.7" stroke="#000" stroke-width="2.2" stroke-linecap="butt"/>
<line x1="586.75" y1="1678" x2="609.55" y2="1678" stroke="#000" stroke-width="2.2" stroke-linecap="butt"/>
<line x1="586.75" y1="1723.7" x2="609.55" y2="1723.7" stroke="#000" stroke-width="2.2" stroke-linecap="butt"/>
<circle cx="429.4" cy="1416" r="10.8" fill="#000" stroke="#000" stroke-width="2.2"/>
<circle cx="513.77" cy="1486.6" r="10.8" fill="#000" stroke="#000" stroke-width="2.2"/>
<circle cx="598.15" cy="1708.6" r="10.8" fill="#000" stroke="#000" stroke-width="2.2"/>
</g>
<g><polyline points="429.4,1419 766.9,1433.8 1441.9,1690.9 1779.4,1715.5 2116.9,1846.2" fill="none" stroke="#6f3c9b" stroke-width="4.4" stroke-linejoin="round"/>
<line x1="766.9" y1="1424.8" x2="766.9" y2="1439.9" stroke="#000" stroke-width="2.2" stroke-linecap="butt"/>
<line x1="754.7" y1="1424.8" x2="779.1" y2="1424.8" stroke="#000" stroke-width="2.2" stroke-linecap="butt"/>
<line x1="754.7" y1="1439.9" x2="779.1" y2="1439.9" stroke="#000" stroke-width="2.2" stroke-linecap="butt"/>
<line x1="1441.9" y1="1682.5" x2="1441.9" y2="1699.5" stroke="#000" stroke-width="2.2" stroke-linecap="butt"/>
<line x1="1429.5" y1="1682.5" x2="1450.9" y2="1682.5" stroke="#000" stroke-width="2.2" stroke-linecap="butt"/>
<line x1="1429.5" y1="1699.5" x2="1450.9" y2="1699.5" stroke="#000" stroke-width="2.2" stroke-linecap="butt"/>
<line x1="1779.4" y1="1706" x2="1779.4" y2="1727.5" stroke="#000" stroke-width="2.2" stroke-linecap="butt"/>
<line x1="1767" y1="1706" x2="1788.4" y2="1706" stroke="#000" stroke-width="2.2" stroke-linecap="butt"/>
<line x1="1767" y1="1727.5" x2="1788.4" y2="1727.5" stroke="#000" stroke-width="2.2" stroke-linecap="butt"/>
<line x1="2116.9" y1="1831.3" x2="2116.9" y2="1873.9" stroke="#000" stroke-width="2.2" stroke-linecap="butt"/>
<line x1="2104.5" y1="1831.3" x2="2125.9" y2="1831.3" stroke="#000" stroke-width="2.2" stroke-linecap="butt"/>
<line x1="2104.5" y1="1873.9" x2="2125.9" y2="1873.9" stroke="#000" stroke-width="2.2" stroke-linecap="butt"/>
<circle cx="429.4" cy="1416" r="10.8" fill="#6f3c9b" stroke="#000" stroke-width="2.2"/>
<circle cx="766.9" cy="1433.8" r="10.8" fill="#6f3c9b" stroke="#000" stroke-width="2.2"/>
<circle cx="1441.9" cy="1690.9" r="10.8" fill="#6f3c9b" stroke="#000" stroke-width="2.2"/>
<circle cx="1779.4" cy="1715.5" r="10.8" fill="#6f3c9b" stroke="#000" stroke-width="2.2"/>
<circle cx="2116.9" cy="1846.2" r="10.8" fill="#6f3c9b" stroke="#000" stroke-width="2.2"/>
</g>
<g><polyline points="429.4,1419.3 513.77,1427 598.15,1444.5 682.52,1481 766.9,1550 935.65,1762.5" fill="none" stroke="#ffd966" stroke-width="4.4" stroke-linejoin="round"/>
<line x1="935.65" y1="1768" x2="935.65" y2="1792.1" stroke="#000" stroke-width="2.2" stroke-linecap="butt"/>
<line x1="924.25" y1="1792.1" x2="947.05" y2="1792.1" stroke="#000" stroke-width="2.2" stroke-linecap="butt"/>
<circle cx="429.4" cy="1416" r="10.8" fill="#ffd966" stroke="#000" stroke-width="2.2"/>
<circle cx="513.77" cy="1427" r="10.8" fill="#ffd966" stroke="#000" stroke-width="2.2"/>
<circle cx="598.15" cy="1444.5" r="10.8" fill="#ffd966" stroke="#000" stroke-width="2.2"/>
<circle cx="682.52" cy="1481" r="10.8" fill="#ffd966" stroke="#000" stroke-width="2.2"/>
<circle cx="766.9" cy="1550" r="10.8" fill="#ffd966" stroke="#000" stroke-width="2.2"/>
<circle cx="935.65" cy="1768.1" r="10.8" fill="#ffd966" stroke="#000" stroke-width="2.2"/>
</g>
<g><polyline points="429.4,1419.3 513.77,1425.1 598.15,1441.9 682.52,1480 766.9,1572.2 935.65,1757.6" fill="none" stroke="#ed2024" stroke-width="4.4" stroke-linejoin="round"/>
<line x1="513.77" y1="1418.5" x2="513.77" y2="1437.4" stroke="#000" stroke-width="2.2" stroke-linecap="butt"/>
<line x1="502.38" y1="1418.5" x2="525.17" y2="1418.5" stroke="#000" stroke-width="2.2" stroke-linecap="butt"/>
<line x1="502.38" y1="1435.2" x2="525.17" y2="1435.2" stroke="#000" stroke-width="2.2" stroke-linecap="butt"/>
<line x1="502.38" y1="1437.4" x2="525.17" y2="1437.4" stroke="#000" stroke-width="2.2" stroke-linecap="butt"/>
<line x1="598.15" y1="1430" x2="598.15" y2="1455.6" stroke="#000" stroke-width="2.2" stroke-linecap="butt"/>
<line x1="586.75" y1="1430" x2="609.55" y2="1430" stroke="#000" stroke-width="2.2" stroke-linecap="butt"/>
<line x1="586.75" y1="1455.6" x2="609.55" y2="1455.6" stroke="#000" stroke-width="2.2" stroke-linecap="butt"/>
<line x1="682.52" y1="1474" x2="682.52" y2="1484.5" stroke="#000" stroke-width="2.2" stroke-linecap="butt"/>
<line x1="671.12" y1="1474" x2="693.92" y2="1474" stroke="#000" stroke-width="2.2" stroke-linecap="butt"/>
<line x1="671.12" y1="1484.5" x2="693.92" y2="1484.5" stroke="#000" stroke-width="2.2" stroke-linecap="butt"/>
<line x1="766.9" y1="1562" x2="766.9" y2="1580.6" stroke="#000" stroke-width="2.2" stroke-linecap="butt"/>
<line x1="755.5" y1="1562" x2="778.3" y2="1562" stroke="#000" stroke-width="2.2" stroke-linecap="butt"/>
<line x1="755.5" y1="1580.6" x2="778.3" y2="1580.6" stroke="#000" stroke-width="2.2" stroke-linecap="butt"/>
<line x1="935.65" y1="1745.8" x2="935.65" y2="1757" stroke="#000" stroke-width="2.2" stroke-linecap="butt"/>
<line x1="924.25" y1="1745.8" x2="947.05" y2="1745.8" stroke="#000" stroke-width="2.2" stroke-linecap="butt"/>
<line x1="924.25" y1="1749.5" x2="947.05" y2="1749.5" stroke="#000" stroke-width="2.2" stroke-linecap="butt"/>
<circle cx="429.4" cy="1416" r="10.8" fill="#ed2024" stroke="#000" stroke-width="2.2"/>
<circle cx="513.77" cy="1425.1" r="10.8" fill="#ed2024" stroke="#000" stroke-width="2.2"/>
<circle cx="598.15" cy="1441.9" r="10.8" fill="#ed2024" stroke="#000" stroke-width="2.2"/>
<circle cx="682.52" cy="1480" r="10.8" fill="#ed2024" stroke="#000" stroke-width="2.2"/>
<circle cx="766.9" cy="1572.2" r="10.8" fill="#ed2024" stroke="#000" stroke-width="2.2"/>
<circle cx="935.65" cy="1757.6" r="10.8" fill="#ed2024" stroke="#000" stroke-width="2.2"/>
</g>
<g><polyline points="429.4,1419.3 513.77,1447.5 598.15,1467.6 682.52,1504 766.9,1617.5 935.65,1823.7" fill="none" stroke="#1c75bc" stroke-width="4.4" stroke-linejoin="round"/>
<line x1="598.15" y1="1455.6" x2="598.15" y2="1479.7" stroke="#000" stroke-width="2.2" stroke-linecap="butt"/>
<line x1="586.75" y1="1455.6" x2="609.55" y2="1455.6" stroke="#000" stroke-width="2.2" stroke-linecap="butt"/>
<line x1="586.75" y1="1479.7" x2="609.55" y2="1479.7" stroke="#000" stroke-width="2.2" stroke-linecap="butt"/>
<line x1="682.52" y1="1491.7" x2="682.52" y2="1543.7" stroke="#000" stroke-width="2.2" stroke-linecap="butt"/>
<line x1="671.12" y1="1491.7" x2="693.92" y2="1491.7" stroke="#000" stroke-width="2.2" stroke-linecap="butt"/>
<line x1="671.12" y1="1543.7" x2="693.92" y2="1543.7" stroke="#000" stroke-width="2.2" stroke-linecap="butt"/>
<line x1="766.9" y1="1605.6" x2="766.9" y2="1651.6" stroke="#000" stroke-width="2.2" stroke-linecap="butt"/>
<line x1="755.5" y1="1605.6" x2="778.3" y2="1605.6" stroke="#000" stroke-width="2.2" stroke-linecap="butt"/>
<line x1="755.5" y1="1651.6" x2="778.3" y2="1651.6" stroke="#000" stroke-width="2.2" stroke-linecap="butt"/>
<line x1="935.65" y1="1792.1" x2="935.65" y2="1823" stroke="#000" stroke-width="2.2" stroke-linecap="butt"/>
<line x1="924.25" y1="1816" x2="947.05" y2="1816" stroke="#000" stroke-width="2.2" stroke-linecap="butt"/>
<circle cx="429.4" cy="1416" r="10.8" fill="#1c75bc" stroke="#000" stroke-width="2.2"/>
<circle cx="513.77" cy="1447.5" r="10.8" fill="#1c75bc" stroke="#000" stroke-width="2.2"/>
<circle cx="598.15" cy="1467.6" r="10.8" fill="#1c75bc" stroke="#000" stroke-width="2.2"/>
<circle cx="682.52" cy="1504" r="10.8" fill="#1c75bc" stroke="#000" stroke-width="2.2"/>
<circle cx="766.9" cy="1617.5" r="10.8" fill="#1c75bc" stroke="#000" stroke-width="2.2"/>
<circle cx="935.65" cy="1823.7" r="10.8" fill="#1c75bc" stroke="#000" stroke-width="2.2"/>
</g>
<g><polyline points="429.4,1419.3 513.77,1452.3 598.15,1489 682.52,1553.2 766.9,1657.1 935.65,1837.3" fill="none" stroke="#0bb04c" stroke-width="4.4" stroke-linejoin="round"/>
<line x1="513.77" y1="1452.3" x2="513.77" y2="1476.9" stroke="#000" stroke-width="2.2" stroke-linecap="butt"/>
<line x1="502.38" y1="1476.9" x2="525.17" y2="1476.9" stroke="#000" stroke-width="2.2" stroke-linecap="butt"/>
<line x1="598.15" y1="1479.7" x2="598.15" y2="1516.6" stroke="#000" stroke-width="2.2" stroke-linecap="butt"/>
<line x1="586.75" y1="1498.6" x2="609.55" y2="1498.6" stroke="#000" stroke-width="2.2" stroke-linecap="butt"/>
<line x1="586.75" y1="1516.6" x2="609.55" y2="1516.6" stroke="#000" stroke-width="2.2" stroke-linecap="butt"/>
<line x1="682.52" y1="1543.7" x2="682.52" y2="1587" stroke="#000" stroke-width="2.2" stroke-linecap="butt"/>
<line x1="671.12" y1="1581" x2="693.92" y2="1581" stroke="#000" stroke-width="2.2" stroke-linecap="butt"/>
<line x1="671.12" y1="1587" x2="693.92" y2="1587" stroke="#000" stroke-width="2.2" stroke-linecap="butt"/>
<line x1="766.9" y1="1651.6" x2="766.9" y2="1672.2" stroke="#000" stroke-width="2.2" stroke-linecap="butt"/>
<line x1="755.5" y1="1651.6" x2="778.3" y2="1651.6" stroke="#000" stroke-width="2.2" stroke-linecap="butt"/>
<line x1="755.5" y1="1672.2" x2="778.3" y2="1672.2" stroke="#000" stroke-width="2.2" stroke-linecap="butt"/>
<line x1="935.65" y1="1837" x2="935.65" y2="1849.5" stroke="#000" stroke-width="2.2" stroke-linecap="butt"/>
<line x1="924.25" y1="1846.6" x2="947.05" y2="1846.6" stroke="#000" stroke-width="2.2" stroke-linecap="butt"/>
<line x1="924.25" y1="1849.5" x2="947.05" y2="1849.5" stroke="#000" stroke-width="2.2" stroke-linecap="butt"/>
<circle cx="429.4" cy="1416" r="10.8" fill="#0bb04c" stroke="#000" stroke-width="2.2"/>
<circle cx="513.77" cy="1452.3" r="10.8" fill="#0bb04c" stroke="#000" stroke-width="2.2"/>
<circle cx="598.15" cy="1489" r="10.8" fill="#0bb04c" stroke="#000" stroke-width="2.2"/>
<circle cx="682.52" cy="1553.2" r="10.8" fill="#0bb04c" stroke="#000" stroke-width="2.2"/>
<circle cx="766.9" cy="1657.1" r="10.8" fill="#0bb04c" stroke="#000" stroke-width="2.2"/>
<circle cx="935.65" cy="1837.3" r="10.8" fill="#0bb04c" stroke="#000" stroke-width="2.2"/>
</g>
<g><polyline points="429.4,1419 598.15,1403.6 766.9,1453.3 935.65,1625.5 1104.4,1855.3" fill="none" stroke="#fec010" stroke-width="4.4" stroke-linejoin="round"/>
<line x1="598.15" y1="1388.4" x2="598.15" y2="1418.7" stroke="#000" stroke-width="2.2" stroke-linecap="butt"/>
<line x1="586.75" y1="1388.4" x2="609.55" y2="1388.4" stroke="#000" stroke-width="2.2" stroke-linecap="butt"/>
<line x1="586.75" y1="1418.7" x2="609.55" y2="1418.7" stroke="#000" stroke-width="2.2" stroke-linecap="butt"/>
<line x1="766.9" y1="1442" x2="766.9" y2="1486.4" stroke="#000" stroke-width="2.2" stroke-linecap="butt"/>
<line x1="755.5" y1="1486.4" x2="778.3" y2="1486.4" stroke="#000" stroke-width="2.2" stroke-linecap="butt"/>
<line x1="1104.4" y1="1794.3" x2="1104.4" y2="1932.8" stroke="#000" stroke-width="2.2" stroke-linecap="butt"/>
<line x1="1093" y1="1794.3" x2="1115.8" y2="1794.3" stroke="#000" stroke-width="2.2" stroke-linecap="butt"/>
<line x1="1093" y1="1836.8" x2="1115.8" y2="1836.8" stroke="#000" stroke-width="2.2" stroke-linecap="butt"/>
<line x1="1093" y1="1889.2" x2="1115.8" y2="1889.2" stroke="#000" stroke-width="2.2" stroke-linecap="butt"/>
<path d="M429.4 1408.17L440.8 1429.8H418Z" fill="#fec010" stroke="#000" stroke-width="2.2" stroke-linejoin="miter"/>
<path d="M598.15 1392.77L609.55 1414.4H586.75Z" fill="#fec010" stroke="#000" stroke-width="2.2" stroke-linejoin="miter"/>
<path d="M766.9 1442.47L778.3 1464.1H755.5Z" fill="#fec010" stroke="#000" stroke-width="2.2" stroke-linejoin="miter"/>
<path d="M935.65 1614.67L947.05 1636.3H924.25Z" fill="#fec010" stroke="#000" stroke-width="2.2" stroke-linejoin="miter"/>
<path d="M1104.4 1844.47L1115.8 1866.1H1093Z" fill="#fec010" stroke="#000" stroke-width="2.2" stroke-linejoin="miter"/>
</g>
<g><polyline points="429.4,1419 598.15,1431.5 766.9,1464 935.65,1592.3 1104.4,1702.5" fill="none" stroke="#e8302a" stroke-width="4.4" stroke-linejoin="round"/>
<line x1="598.15" y1="1416" x2="598.15" y2="1420.6" stroke="#000" stroke-width="2.2" stroke-linecap="butt"/>
<line x1="586.75" y1="1420.6" x2="609.55" y2="1420.6" stroke="#000" stroke-width="2.2" stroke-linecap="butt"/>
<line x1="935.65" y1="1579" x2="935.65" y2="1615.3" stroke="#000" stroke-width="2.2" stroke-linecap="butt"/>
<line x1="924.25" y1="1615.3" x2="947.05" y2="1615.3" stroke="#000" stroke-width="2.2" stroke-linecap="butt"/>
<line x1="1093" y1="1693.9" x2="1115.8" y2="1693.9" stroke="#000" stroke-width="2.2" stroke-linecap="butt"/>
<path d="M429.4 1408.17L440.8 1429.8H418Z" fill="#e8302a" stroke="#000" stroke-width="2.2" stroke-linejoin="miter"/>
<path d="M598.15 1420.67L609.55 1442.3H586.75Z" fill="#e8302a" stroke="#000" stroke-width="2.2" stroke-linejoin="miter"/>
<path d="M766.9 1453.17L778.3 1474.8H755.5Z" fill="#e8302a" stroke="#000" stroke-width="2.2" stroke-linejoin="miter"/>
<path d="M935.65 1581.47L947.05 1603.1H924.25Z" fill="#e8302a" stroke="#000" stroke-width="2.2" stroke-linejoin="miter"/>
<path d="M1104.4 1691.67L1115.8 1713.3H1093Z" fill="#e8302a" stroke="#000" stroke-width="2.2" stroke-linejoin="miter"/>
</g>
<g><polyline points="429.4,1419 598.15,1424.3 766.9,1472.5 935.65,1627.2 1104.4,1945.8" fill="none" stroke="#2b6196" stroke-width="4.4" stroke-linejoin="round"/>
<line x1="766.9" y1="1462" x2="766.9" y2="1489.4" stroke="#000" stroke-width="2.2" stroke-linecap="butt"/>
<line x1="755.5" y1="1489.4" x2="778.3" y2="1489.4" stroke="#000" stroke-width="2.2" stroke-linecap="butt"/>
<line x1="935.65" y1="1617.5" x2="935.65" y2="1644.8" stroke="#000" stroke-width="2.2" stroke-linecap="butt"/>
<line x1="924.25" y1="1617.5" x2="947.05" y2="1617.5" stroke="#000" stroke-width="2.2" stroke-linecap="butt"/>
<line x1="924.25" y1="1644.8" x2="947.05" y2="1644.8" stroke="#000" stroke-width="2.2" stroke-linecap="butt"/>
<line x1="1104.4" y1="1910.6" x2="1104.4" y2="1947" stroke="#000" stroke-width="2.2" stroke-linecap="butt"/>
<line x1="1093" y1="1910.6" x2="1115.8" y2="1910.6" stroke="#000" stroke-width="2.2" stroke-linecap="butt"/>
<line x1="1093" y1="1919.7" x2="1115.8" y2="1919.7" stroke="#000" stroke-width="2.2" stroke-linecap="butt"/>
<line x1="1093" y1="1947" x2="1115.8" y2="1947" stroke="#000" stroke-width="2.2" stroke-linecap="butt"/>
<path d="M429.4 1408.17L440.8 1429.8H418Z" fill="#2b6196" stroke="#000" stroke-width="2.2" stroke-linejoin="miter"/>
<path d="M598.15 1413.47L609.55 1435.1H586.75Z" fill="#2b6196" stroke="#000" stroke-width="2.2" stroke-linejoin="miter"/>
<path d="M766.9 1461.67L778.3 1483.3H755.5Z" fill="#2b6196" stroke="#000" stroke-width="2.2" stroke-linejoin="miter"/>
<path d="M935.65 1616.37L947.05 1638H924.25Z" fill="#2b6196" stroke="#000" stroke-width="2.2" stroke-linejoin="miter"/>
<path d="M1104.4 1934.97L1115.8 1956.6H1093Z" fill="#2b6196" stroke="#000" stroke-width="2.2" stroke-linejoin="miter"/>
</g>
<g><polyline points="429.4,1419 598.15,1433.5 766.9,1471 935.65,1573.7 1104.4,1818.2" fill="none" stroke="#0bb04c" stroke-width="4.4" stroke-linejoin="round"/>
<line x1="935.65" y1="1566.2" x2="935.65" y2="1572.7" stroke="#000" stroke-width="2.2" stroke-linecap="butt"/>
<line x1="924.25" y1="1566.2" x2="947.05" y2="1566.2" stroke="#000" stroke-width="2.2" stroke-linecap="butt"/>
<line x1="924.25" y1="1572.7" x2="947.05" y2="1572.7" stroke="#000" stroke-width="2.2" stroke-linecap="butt"/>
<path d="M429.4 1408.17L440.8 1429.8H418Z" fill="#0bb04c" stroke="#000" stroke-width="2.2" stroke-linejoin="miter"/>
<path d="M598.15 1422.67L609.55 1444.3H586.75Z" fill="#0bb04c" stroke="#000" stroke-width="2.2" stroke-linejoin="miter"/>
<path d="M766.9 1460.17L778.3 1481.8H755.5Z" fill="#0bb04c" stroke="#000" stroke-width="2.2" stroke-linejoin="miter"/>
<path d="M935.65 1562.87L947.05 1584.5H924.25Z" fill="#0bb04c" stroke="#000" stroke-width="2.2" stroke-linejoin="miter"/>
<path d="M1104.4 1807.37L1115.8 1829H1093Z" fill="#0bb04c" stroke="#000" stroke-width="2.2" stroke-linejoin="miter"/>
</g>
<line x1="308.2" y1="2272" x2="402.6" y2="2272" stroke="#000" stroke-width="5" stroke-linecap="round"/>
<circle cx="353.4" cy="2273" r="10.8" fill="#000" stroke="#000" stroke-width="2.2"/>
<text transform="translate(412.02,2289.2) scale(0.9423,1)" font-size="53.8" fill="#000">MG1655</text>
<line x1="723.7" y1="2272" x2="819.4" y2="2272" stroke="#6f3c9b" stroke-width="10" stroke-linecap="round"/>
<circle cx="771.4" cy="2273" r="10.8" fill="#6f3c9b" stroke="#000" stroke-width="2.2"/>
<text transform="translate(829.5,2289.2) scale(0.9692,1)" font-size="53.8" fill="#000">Deinococcus radiodurans</text>
<line x1="308.05" y1="2354.4" x2="402.75" y2="2354.4" stroke="#ffd966" stroke-width="4.7" stroke-linecap="round"/>
<circle cx="353.4" cy="2355.4" r="10.8" fill="#ffd966" stroke="#000" stroke-width="2.2"/>
<text transform="translate(411.61,2370.9) scale(0.9229,1)" font-size="53.8" fill="#000">IR9-50</text>
<line x1="723.35" y1="2354.4" x2="819.65" y2="2354.4" stroke="#ed2024" stroke-width="4.7" stroke-linecap="round"/>
<circle cx="771.4" cy="2355.4" r="10.8" fill="#ed2024" stroke="#000" stroke-width="2.2"/>
<text transform="translate(828.23,2370.9) scale(0.9192,1)" font-size="53.8" fill="#000">IR10-50</text>
<line x1="1142.85" y1="2354.4" x2="1237.95" y2="2354.4" stroke="#1c75bc" stroke-width="4.7" stroke-linecap="round"/>
<circle cx="1188.8" cy="2355.4" r="10.8" fill="#1c75bc" stroke="#000" stroke-width="2.2"/>
<text transform="translate(1245.13,2370.9) scale(0.9392,1)" font-size="53.8" fill="#000">IR11-50</text>
<line x1="1558.95" y1="2354.4" x2="1653.05" y2="2354.4" stroke="#0bb04c" stroke-width="4.7" stroke-linecap="round"/>
<circle cx="1604" cy="2355.4" r="10.8" fill="#0bb04c" stroke="#000" stroke-width="2.2"/>
<text transform="translate(1662.76,2370.9) scale(0.9121,1)" font-size="53.8" fill="#000">IR12-50</text>
<line x1="308.05" y1="2436.7" x2="402.75" y2="2436.7" stroke="#fec010" stroke-width="4.7" stroke-linecap="round"/>
<path d="M353.4 2424.47L365.6 2447.61H341.2Z" fill="#fec010" stroke="#000" stroke-width="2.2" stroke-linejoin="miter"/>
<text transform="translate(411.63,2452.4) scale(0.9181,1)" font-size="53.8" fill="#000">IR9-100</text>
<line x1="723.35" y1="2436.7" x2="819.65" y2="2436.7" stroke="#e8302a" stroke-width="4.7" stroke-linecap="round"/>
<path d="M771.4 2424.47L783.6 2447.61H759.2Z" fill="#e8302a" stroke="#000" stroke-width="2.2" stroke-linejoin="miter"/>
<text transform="translate(828.23,2452.4) scale(0.9185,1)" font-size="53.8" fill="#000">IR10-100</text>
<line x1="1142.85" y1="2436.7" x2="1237.95" y2="2436.7" stroke="#2b6196" stroke-width="4.7" stroke-linecap="round"/>
<path d="M1188.8 2424.47L1201 2447.61H1176.6Z" fill="#2b6196" stroke="#000" stroke-width="2.2" stroke-linejoin="miter"/>
<text transform="translate(1245.13,2452.4) scale(0.9376,1)" font-size="53.8" fill="#000">IR11-100</text>
<line x1="1558.95" y1="2436.7" x2="1653.05" y2="2436.7" stroke="#0bb04c" stroke-width="4.7" stroke-linecap="round"/>
<path d="M1604 2424.47L1616.2 2447.61H1591.8Z" fill="#0bb04c" stroke="#000" stroke-width="2.2" stroke-linejoin="miter"/>
<text transform="translate(1662.73,2452.4) scale(0.9180,1)" font-size="53.8" fill="#000">IR12-100</text>
</svg>
</body>
</html>
